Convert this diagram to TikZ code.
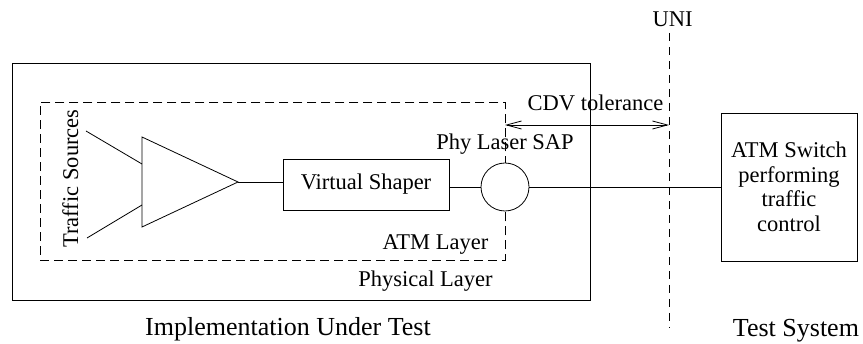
\documentclass[tikz,border=0pt]{standalone}
\usepackage{fontspec}
\setmainfont{Liberation Serif}
\usetikzlibrary{arrows.meta}
\begin{document}
\begin{tikzpicture}[x=1pt,y=-1pt,
 ln/.style={line width=0.8pt},
 dsh/.style={line width=0.8pt, dash pattern=on 9pt off 5pt},
 dshv/.style={line width=0.8pt, dash pattern=on 8pt off 6pt},
 txt/.style={font=\fontsize{22.5}{24.5}\selectfont, inner sep=0pt, anchor=base},
 bigtxt/.style={font=\fontsize{26}{30}\selectfont, inner sep=0pt, anchor=base},
 box/.style={draw, line width=0.8pt, inner sep=0pt, font=\fontsize{22.5}{24.5}\selectfont},
 barb/.style={line width=0.8pt, {Straight Barb[length=15pt,width=8pt]}-{Straight Barb[length=15pt,width=8pt]}}]
\useasboundingbox (0,0) rectangle (863,344);
% outer and inner boxes
\node[draw, ln, minimum width=578, minimum height=237, anchor=north west, inner sep=0pt] (iut) at (12,63) {};
\node[draw, dsh, minimum width=465, minimum height=158, anchor=north west, inner sep=0pt] (atm) at (40,102) {};
% triangle (traffic merge)
\coordinate (t1) at (142,137);
\coordinate (t2) at (142,227);
\coordinate (tip) at (238,182);
\draw[ln] (t1) -- (tip) -- (t2) -- cycle;
\coordinate (s1) at (86,131);
\coordinate (s2) at (87,238);
\coordinate (in1) at (142,164);
\coordinate (in2) at (142,205);
\draw[ln] (s1) -- (in1);
\draw[ln] (s2) -- (in2);
\node[txt, rotate=90] (ts) at (78,178.5) {Traffic Sources};
% virtual shaper
\node[box, minimum width=166, minimum height=51] (vs) at (366,184.5) {Virtual Shaper};
% SAP circle
\node[draw, ln, circle, fill=white, minimum size=48, inner sep=0pt] (sap) at (505,187) {};
% ATM switch
\node[box, align=center, minimum width=136, minimum height=148] (sw) at (789,187) {ATM Switch\\performing\\traffic\\control};
% connectors
\draw[ln] (tip) -- (tip -| vs.west);
\draw[ln] (sap.west -| vs.east) -- (sap.west);
\draw[ln] (sap.east) -- (sw.west);
% UNI
\coordinate (unitop) at (669,33);
\coordinate (unibot) at (669,328);
\draw[dshv] (unitop) -- (unibot);
\node[txt] (uni) at (672.5,26.7) {UNI};
% CDV tolerance
\coordinate (cdvl) at (505,125);
\coordinate (cdvr) at (669,125);
\draw[barb] (cdvl) -- (cdvr);
\node[txt] (cdv) at (595.5,111) {CDV tolerance};
% labels
\node[txt] (phy) at (505,150) {Phy Laser SAP};
\node[txt] (atml) at (435.5,250) {ATM Layer};
\node[txt] (physl) at (425.5,287) {Physical Layer};
\node[bigtxt] (iutl) at (288,336) {Implementation Under Test};
\node[bigtxt] (tsl) at (796,337) {Test System};
\end{tikzpicture}
\end{document}
